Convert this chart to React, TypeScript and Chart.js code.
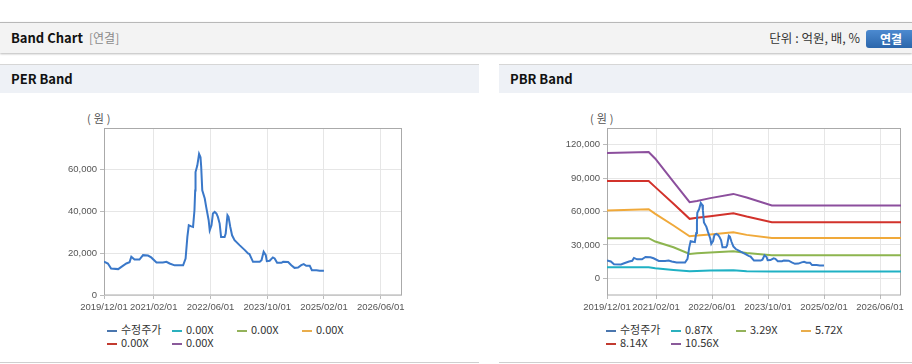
import React, { useEffect, useRef } from 'react';
import { Chart, registerables } from 'chart.js';

Chart.register(...registerables);

// x axis: months since 2019/12/01
const xTickMonths = [0, 14, 30, 46, 62, 78];
const xTickLabels = ['2019/12/01', '2021/02/01', '2022/06/01', '2023/10/01', '2025/02/01', '2026/06/01'];
const xMaxMonth = 84;

// 수정주가 (adjusted price)
const priceMonths = [0, 1.1, 2, 4, 4.9, 6.3, 7.2, 7.7, 8.6, 10, 11, 12.4, 13.3, 14.8, 16.6, 17.6, 18.5, 19.9, 22.3, 23, 23.5, 23.9, 24.6, 25.1, 25.5, 25.7, 25.8, 26.3, 26.8, 27.2, 27.4, 27.7, 28.4, 28.8, 29.5, 29.8, 30.3, 30.7, 31.2, 31.7, 32.1, 32.6, 33, 34, 34.3, 34.8, 35.1, 35.6, 36.1, 36.8, 38.2, 39.7, 40.6, 41, 42, 43.9, 44.4, 45, 45.6, 45.9, 46.7, 47.6, 48.1, 48.8, 50, 50.5, 51.9, 52.8, 53.7, 54.7, 55.6, 56.3, 57, 58, 58.6, 59.9, 60.8, 62];
const priceValues = [16000, 15100, 12700, 12400, 13500, 15100, 15700, 18300, 17000, 17000, 19100, 18900, 18000, 15600, 15600, 15900, 15100, 14200, 14200, 17500, 27800, 33400, 32900, 32600, 40600, 50100, 58900, 62000, 67600, 66000, 61300, 50100, 46200, 42200, 35800, 31000, 33400, 39000, 39800, 39000, 37400, 34200, 27800, 27800, 29400, 38200, 37400, 32600, 28600, 26300, 23900, 21500, 19900, 19600, 15900, 15900, 16700, 20700, 19100, 16200, 16400, 18000, 17500, 15400, 15400, 15900, 15800, 14300, 13000, 13200, 14300, 14800, 14000, 14000, 11900, 11900, 11600, 11600];

// PBR bands
const bandMonths = [0, 11.9, 13.8, 19, 23.6, 25.7, 29.5, 36.1, 39.9, 47.1, 84];
const pbr087 = [9900, 9900, 9000, 7500, 6300, 6500, 6900, 7200, 6300, 6000, 6000];
const pbr329 = [36000, 36000, 33000, 27900, 21900, 22500, 23100, 24300, 22800, 20700, 20700];
const pbr572 = [60900, 62100, 57900, 47400, 37800, 38400, 39300, 41400, 39000, 36300, 36300];
const pbr814 = [87300, 87300, 81900, 66900, 53400, 54300, 55800, 58500, 55500, 50400, 50400];
const pbr1056 = [112500, 113400, 107400, 86700, 68400, 69500, 72000, 75800, 72500, 65400, 65400];

// PER bands (no data)
const perBandEmpty: number[] = [];

const perYTicks = [0, 20000, 40000, 60000];
const pbrYTicks = [0, 30000, 60000, 90000, 120000];

const perLegend = ['수정주가', '0.00X', '0.00X', '0.00X', '0.00X', '0.00X'];
const pbrLegend = ['수정주가', '0.87X', '3.29X', '5.72X', '8.14X', '10.56X'];
const lineColors = ['#3a78c9', '#1fb1c4', '#8db54f', '#f0a93a', '#d2322b', '#8c4f9d'];
const legendColors = ['#4a76ae', '#2bb0bd', '#93b25a', '#e9ad4c', '#c23b30', '#8a5a9a'];

const KR = '"Noto Sans CJK KR", "Noto Sans", sans-serif';

const toXY = (ms: number[], vs: number[]) => ms.map((m, i) => ({ x: m, y: vs[i] }));

const framePlugin = {
  id: 'frame',
  beforeDatasetsDraw(chart: any) {
    const { ctx, chartArea: a } = chart;
    ctx.save();
    ctx.strokeStyle = '#aaaaaa';
    ctx.lineWidth = 1;
    ctx.strokeRect(Math.round(a.left) + 0.5, Math.round(a.top) + 0.5, Math.round(a.right - a.left) - 1, Math.round(a.bottom - a.top) - 0.5);
    ctx.restore();
  },
};

type BandChartProps = {
  width: number;
  height: number;
  series: { x: number; y: number }[][];
  yMin: number;
  yMax: number;
  yTicks: number[];
  yAxisWidth: number;
  rightPad: number;
};

function BandCanvas(p: BandChartProps) {
  const ref = useRef<HTMLCanvasElement | null>(null);
  useEffect(() => {
    if (!ref.current) return;
    const tickFont = { family: '"Liberation Sans", Arial, sans-serif', size: 9.5 };
    const chart = new Chart(ref.current, {
      type: 'line',
      data: {
        datasets: p.series.map((d, i) => ({
          data: d,
          borderColor: lineColors[i],
          backgroundColor: lineColors[i],
          borderWidth: 2,
          pointRadius: 0,
          tension: 0,
          fill: false,
        })),
      },
      options: {
        responsive: false,
        animation: false,
        layout: { padding: { left: 0, right: p.rightPad, top: 28, bottom: 0 } },
        plugins: { legend: { display: false }, tooltip: { enabled: false } },
        scales: {
          x: {
            type: 'linear',
            min: 0,
            max: xMaxMonth,
            afterBuildTicks: (s: any) => {
              s.ticks = xTickMonths.map((v) => ({ value: v }));
            },
            afterFit: (s: any) => {
              s.height = 20;
            },
            ticks: {
              autoSkip: false,
              maxRotation: 0,
              minRotation: 0,
              padding: 3,
              color: '#555',
              font: tickFont,
              callback: (v: any) => {
                const i = xTickMonths.indexOf(Number(v));
                return i >= 0 ? xTickLabels[i] : '';
              },
            },
            grid: { color: '#e6e6e6', tickLength: 4, tickColor: '#bbbbbb' },
            border: { display: false },
          },
          y: {
            min: p.yMin,
            max: p.yMax,
            afterBuildTicks: (s: any) => {
              s.ticks = p.yTicks.map((v) => ({ value: v }));
            },
            afterFit: (s: any) => {
              s.width = p.yAxisWidth;
            },
            ticks: {
              padding: 3,
              color: '#555',
              font: tickFont,
              callback: (v: any) => Number(v).toLocaleString('en-US'),
            },
            grid: { color: '#e6e6e6', tickLength: 4, tickColor: '#bbbbbb' },
            border: { display: false },
          },
        },
      } as any,
      plugins: [framePlugin],
    });
    return () => chart.destroy();
  }, []);
  return <canvas ref={ref} width={p.width} height={p.height} style={{ display: 'block', width: p.width, height: p.height }} />;
}

function Legend({ labels, left }: { labels: string[]; left: number }) {
  return (
    <div
      style={{
        position: 'absolute',
        left,
        top: 323,
        display: 'grid',
        gridTemplateColumns: 'repeat(4, 65px)',
        gridAutoRows: '13px',
        fontFamily: KR,
        fontSize: 11,
        color: '#333',
      }}
    >
      {labels.map((l, i) => (
        <div key={i} style={{ display: 'flex', alignItems: 'center', whiteSpace: 'nowrap', lineHeight: '13px' }}>
          <span style={{ display: 'inline-block', width: 10, height: 2, background: legendColors[i], marginRight: 4, marginTop: 3 }} />
          <span>{l}</span>
        </div>
      ))}
    </div>
  );
}

function Panel(props: {
  left: number;
  width: number;
  title: string;
  legend: string[];
  legendLeft: number;
  unitLeft: number;
  chart: BandChartProps;
}) {
  return (
    <>
      <div
        style={{
          position: 'absolute',
          left: props.left,
          top: 64,
          width: props.width,
          height: 297,
          borderTop: '1px solid #d6d6d6',
          borderBottom: '1px solid #cfcfcf',
          background: '#ffffff',
        }}
      >
        <div
          style={{
            height: 28,
            background: '#eef1f6',
            fontFamily: KR,
            fontWeight: 700,
            fontSize: 13,
            color: '#111',
            lineHeight: '28px',
            paddingLeft: 11,
          }}
        >
          {props.title}
        </div>
      </div>
      <div
        style={{
          position: 'absolute',
          left: props.unitLeft,
          top: 110,
          fontFamily: KR,
          fontSize: 11,
          color: '#555',
          lineHeight: '16px',
          letterSpacing: 3,
        }}
      >
        (원)
      </div>
      <div style={{ position: 'absolute', left: props.left, top: 100 }}>
        <BandCanvas {...props.chart} />
      </div>
      <Legend labels={props.legend} left={props.legendLeft} />
    </>
  );
}

export default function App() {
  const price = toXY(priceMonths, priceValues);
  const perSeries = [price, perBandEmpty.map((v) => ({ x: 0, y: v })), [], [], [], []];
  const pbrSeries = [
    price,
    toXY(bandMonths, pbr087),
    toXY(bandMonths, pbr329),
    toXY(bandMonths, pbr572),
    toXY(bandMonths, pbr814),
    toXY(bandMonths, pbr1056),
  ];
  return (
    <div style={{ position: 'fixed', left: 0, top: 0, width: 912, height: 364, background: '#fff', overflow: 'hidden' }}>
      <div
        style={{
          position: 'absolute',
          left: 0,
          top: 22,
          width: 912,
          height: 30,
          borderTop: '1px solid #b8b8b8',
          background: '#f3f3f3',
          boxShadow: '0 1px 2px rgba(0,0,0,0.28)',
        }}
      >
        <span
          style={{
            position: 'absolute',
            left: 11,
            top: 0,
            lineHeight: '30px',
            fontFamily: KR,
            fontWeight: 700,
            fontSize: 13,
            color: '#111',
          }}
        >
          Band Chart
        </span>
        <span
          style={{ position: 'absolute', left: 89, top: 0, lineHeight: '30px', fontFamily: KR, fontSize: 12, color: '#8a8a8a' }}
        >
          [연결]
        </span>
        <span
          style={{
            position: 'absolute',
            right: 912 - 860,
            top: 0,
            lineHeight: '30px',
            fontFamily: KR,
            fontSize: 12.5,
            color: '#333',
            whiteSpace: 'nowrap',
          }}
        >
          단위 : 억원, 배, %
        </span>
        <div
          style={{
            position: 'absolute',
            left: 866,
            top: 7,
            width: 50,
            height: 18,
            borderRadius: 3,
            background: 'linear-gradient(#4c8ad0, #2b66ab)',
            color: '#fff',
            fontFamily: KR,
            fontWeight: 700,
            fontSize: 12,
            lineHeight: '18px',
            textAlign: 'center',
          }}
        >
          연결
        </div>
      </div>
      <Panel
        left={0}
        width={479}
        title="PER Band"
        legend={perLegend}
        legendLeft={107}
        unitLeft={87}
        chart={{
          width: 479,
          height: 215,
          series: perSeries,
          yMin: 0,
          yMax: 80000,
          yTicks: perYTicks,
          yAxisWidth: 104,
          rightPad: 77,
        }}
      />
      <Panel
        left={499}
        width={413}
        title="PBR Band"
        legend={pbrLegend}
        legendLeft={606}
        unitLeft={590}
        chart={{
          width: 413,
          height: 215,
          series: pbrSeries,
          yMin: -15000,
          yMax: 135000,
          yTicks: pbrYTicks,
          yAxisWidth: 108,
          rightPad: 11,
        }}
      />
    </div>
  );
}
